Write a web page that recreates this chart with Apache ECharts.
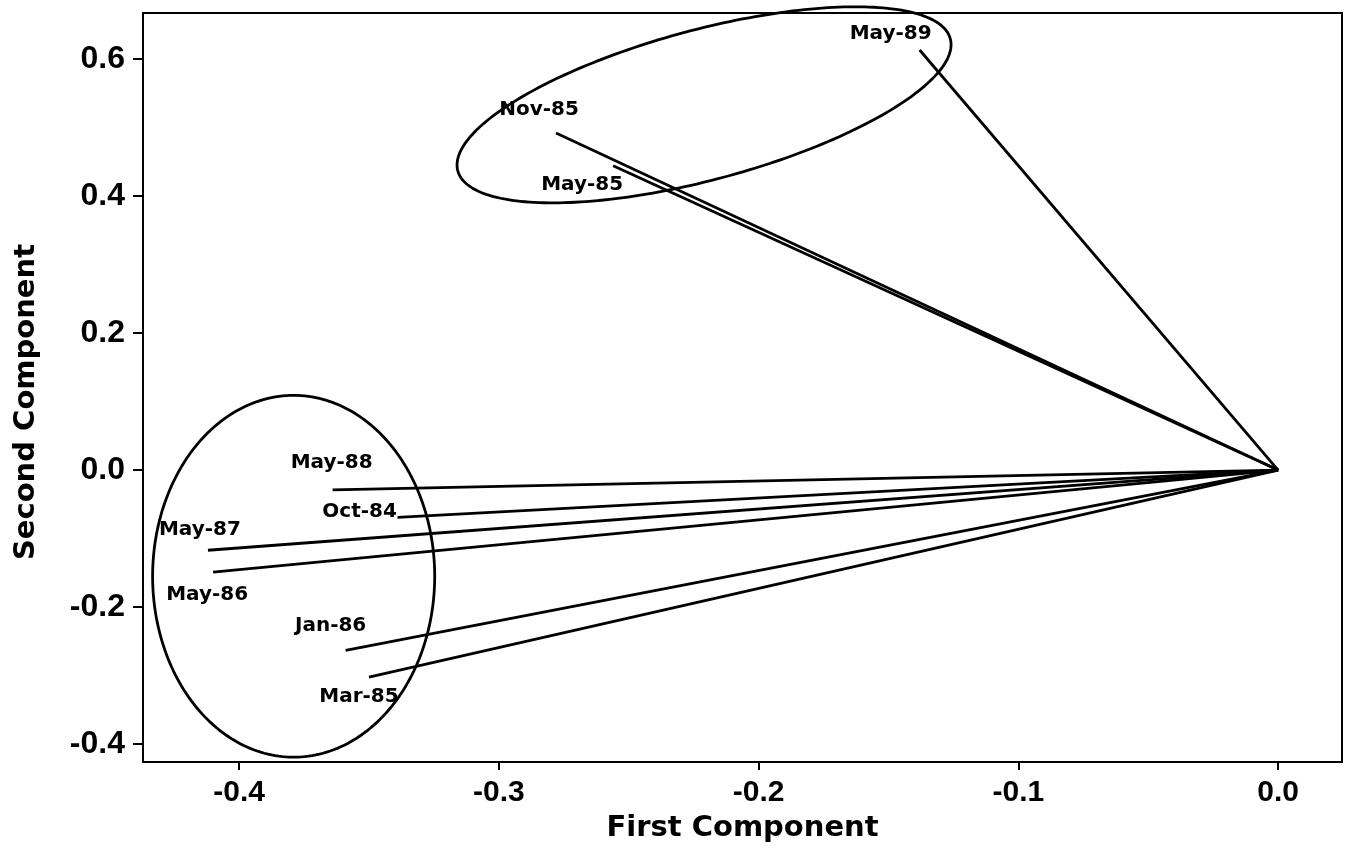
<!DOCTYPE html>
<html><head><meta charset="utf-8">
<script src="https://cdn.jsdelivr.net/npm/echarts@6/dist/echarts.min.js"></script>
<style>html,body{margin:0;padding:0;background:#fff}#c{width:1352px;height:854px}</style>
</head><body><div id="c"></div>
<script>
// ---- data ----
const dates = ['May-89','Nov-85','May-85','May-88','Oct-84','May-87','May-86','Jan-86','Mar-85'];
const firstComponent  = [-0.138,-0.278,-0.256,-0.364,-0.339,-0.412,-0.410,-0.359,-0.350];
const secondComponent = [ 0.613, 0.492, 0.444,-0.029,-0.069,-0.117,-0.149,-0.263,-0.302];
const xTicks = [-0.4,-0.3,-0.2,-0.1,0.0];
const yTicks = [-0.4,-0.2,0.0,0.2,0.4,0.6];
const origin = [0,0];
// cluster ellipses (annotation, data units): centre and two conjugate half-axis vectors
const ellipseCenters = [[-0.221,0.533],[-0.379,-0.155]];
const ellipseAxisU   = [[0.0948,0.0964],[0.0543,0]];
const ellipseAxisV   = [[0.0075,-0.1057],[0,0.264]];

// ---- styles ----
const labelOffsets = [[-29,-16],[-17,-23],[-31,19],[-1,-27],[-38,-6],[-8,-20],[-6,23],[-15,-25],[-10,20]];
const INK = '#000';

const chart = echarts.init(document.getElementById('c'), null, {renderer:'canvas'});

const lineSeries = dates.map((d,i)=>({
  type:'line', name:d, silent:true, showSymbol:false, symbol:'none',
  data:[origin,[firstComponent[i],secondComponent[i]]],
  lineStyle:{color:INK,width:2.8}, z:3, animation:false
}));

const labelStyle = {show:true, position:'inside', color:INK, textBorderWidth:0, opacity:1,
    fontFamily:'DejaVu Sans', fontWeight:'bold', fontSize:20};

const labelSeries = {
  type:'scatter', symbolSize:0, silent:true, z:4,
  itemStyle:{color:INK, opacity:1},
  data: dates.map((d,i)=>({name:d, value:[firstComponent[i],secondComponent[i]],
    label:Object.assign({},labelStyle,{offset:labelOffsets[i]})})),
  label:Object.assign({formatter:p=>p.name},labelStyle)
};

const axisCommon = {
  type:'value',
  splitLine:{show:false},
  axisLine:{show:true,onZero:false,lineStyle:{color:INK,width:2}},
};

chart.setOption({
  animation:false,
  backgroundColor:'#fff',
  grid:{left:143,right:10,top:13,bottom:92,show:true,borderColor:INK,borderWidth:2,containLabel:false,outerBoundsMode:'none'},
  xAxis:Object.assign({},axisCommon,{
    min:-0.437,max:0.0246,
    axisTick:{show:true,customValues:xTicks,length:8,lineStyle:{color:INK,width:2}},
    axisLabel:{customValues:xTicks,formatter:v=>Number(v).toFixed(1),fontFamily:'Liberation Sans',fontWeight:'bold',fontSize:30,color:INK,margin:16},
    name:'First Component',nameLocation:'middle',nameGap:52,
    nameTextStyle:{fontFamily:'DejaVu Sans',fontWeight:'bold',fontSize:29,color:INK}
  }),
  yAxis:Object.assign({},axisCommon,{
    min:-0.426,max:0.667,
    axisTick:{show:true,customValues:yTicks,length:10,lineStyle:{color:INK,width:2}},
    axisLabel:{customValues:yTicks,formatter:v=>Number(v).toFixed(1),fontFamily:'Liberation Sans',fontWeight:'bold',fontSize:32,color:INK,margin:18}
  }),
  series:[...lineSeries,labelSeries]
});

function drawAnnotations(){
  const g = [];
  for(let k=0;k<ellipseCenters.length;k++){
    const c=ellipseCenters[k],u=ellipseAxisU[k],v=ellipseAxisV[k];
    const pts=[];
    for(let s=0;s<240;s++){
      const t=s/240*Math.PI*2;
      pts.push(chart.convertToPixel({gridIndex:0},[c[0]+u[0]*Math.cos(t)+v[0]*Math.sin(t), c[1]+u[1]*Math.cos(t)+v[1]*Math.sin(t)]));
    }
    g.push({type:'polygon',silent:true,z:2,shape:{points:pts},style:{fill:'rgba(0,0,0,0)',stroke:INK,lineWidth:2.8}});
  }
  g.push({type:'text',x:26,y:402,rotation:Math.PI/2,silent:true,
    style:{text:'Second Component',font:'bold 29px "DejaVu Sans"',fill:INK,align:'center',verticalAlign:'middle'}});
  chart.setOption({graphic:g});
}
drawAnnotations();
</script></body></html>
